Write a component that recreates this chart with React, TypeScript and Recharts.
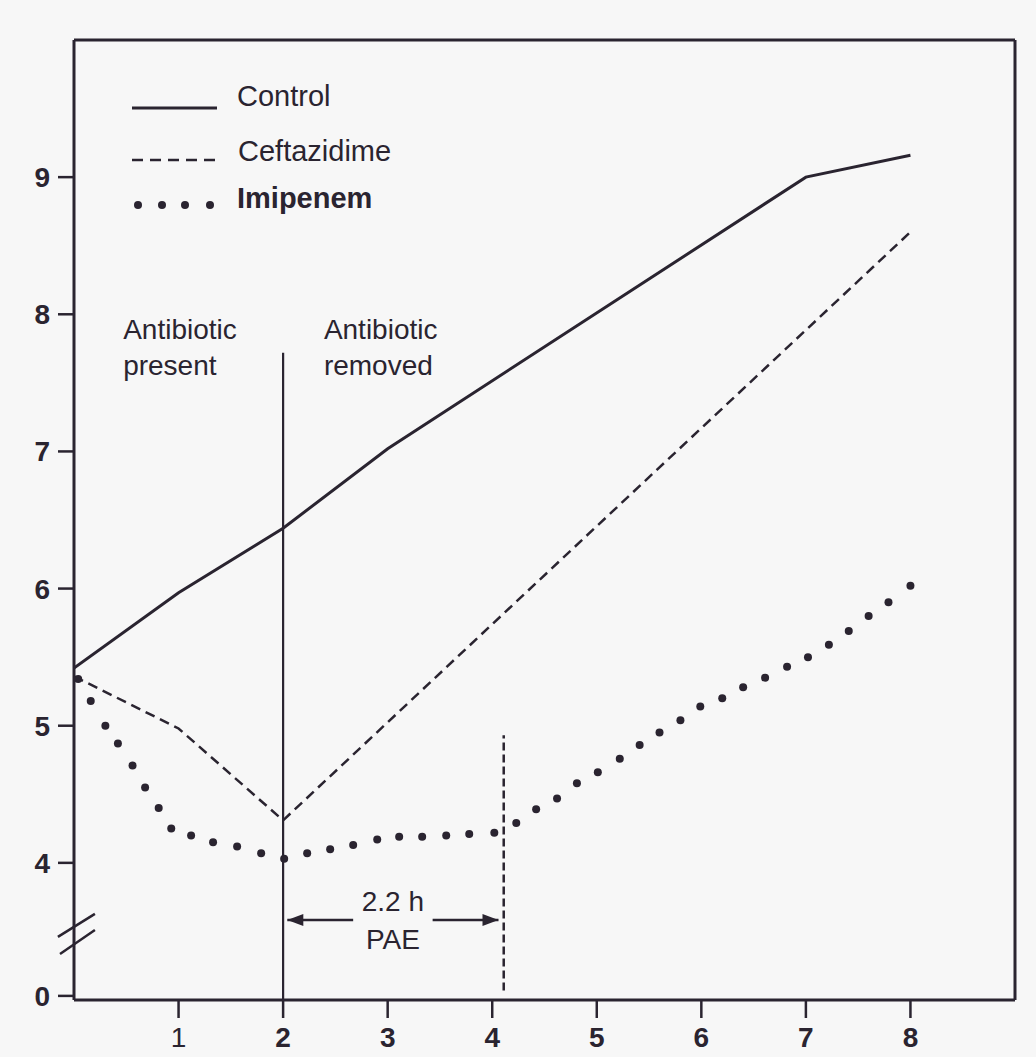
import React from 'react';
import { LineChart, Line, XAxis, YAxis, ReferenceLine, ReferenceDot } from 'recharts';

// ---- data ----
const xTicks = [1, 2, 3, 4, 5, 6, 7, 8];
const xTickLabels = ['1', '2', '3', '4', '5', '6', '7', '8'];
const yTicks = [3.03, 4, 5, 6, 7, 8, 9];
const yTickLabels = ['0', '4', '5', '6', '7', '8', '9'];

const controlX = [0, 1, 2, 3, 7, 8];
const controlY = [5.42, 5.97, 6.44, 7.02, 9.0, 9.16];

const ceftazidimeX = [0, 1, 2, 8];
const ceftazidimeY = [5.36, 4.98, 4.31, 8.6];

// individual dots of the Imipenem curve
const imipenemX = [0.04, 0.16, 0.3, 0.42, 0.56, 0.68, 0.81, 0.93, 1.12, 1.33, 1.56, 1.79, 2.01, 2.23, 2.45, 2.67, 2.9, 3.11, 3.33, 3.56, 3.78, 4.02, 4.23, 4.42, 4.62, 4.81, 5.01, 5.22, 5.41, 5.6, 5.8, 5.99, 6.2, 6.4, 6.61, 6.82, 7.02, 7.22, 7.41, 7.6, 7.79, 8.0];
const imipenemY = [5.34, 5.18, 5.0, 4.87, 4.71, 4.55, 4.4, 4.25, 4.2, 4.15, 4.12, 4.07, 4.03, 4.07, 4.1, 4.13, 4.17, 4.19, 4.19, 4.2, 4.21, 4.22, 4.29, 4.39, 4.47, 4.58, 4.66, 4.76, 4.86, 4.95, 5.04, 5.14, 5.2, 5.28, 5.35, 5.43, 5.5, 5.59, 5.69, 5.8, 5.9, 6.02];

const seriesNames = ['Control', 'Ceftazidime', 'Imipenem'];

const antibioticTime = 2;
const paeEnd = 4.11;
const paeLabel = ['2.2 h', 'PAE'];
const presentLabel = ['Antibiotic', 'present'];
const removedLabel = ['Antibiotic', 'removed'];

const toPoints = (xs: number[], ys: number[]) => xs.map((x, i) => ({ x, y: ys[i] }));
const controlData = toPoints(controlX, controlY);
const ceftazidimeData = toPoints(ceftazidimeX, ceftazidimeY);
const imipenemData = toPoints(imipenemX, imipenemY);

const INK = '#2a2430';
const BG = '#f7f7f7';
const FONT = '"Liberation Sans", Arial, Helvetica, sans-serif';

const YTick = (props: any) => {
  const { x, y, payload } = props;
  const i = yTicks.indexOf(payload.value);
  return (
    <text x={x - 6} y={y} dy={10} textAnchor="end" fontFamily={FONT} fontSize={28} fontWeight="bold" fill={INK}>
      {yTickLabels[i]}
    </text>
  );
};

const XTick = (props: any) => {
  const { x, y, payload } = props;
  const i = xTicks.indexOf(payload.value);
  return (
    <text x={x} y={y} dy={27} textAnchor="middle" fontFamily={FONT} fontSize={28}
      fontWeight={payload.value === 1 ? 'normal' : 'bold'} fill={INK}>
      {xTickLabels[i]}
    </text>
  );
};

const multiLine = (lines: string[], anchor: string, dy0: number, lh: number) => (props: any) => {
  const vb = props.viewBox || {};
  const cx = (vb.x ?? 0) + (vb.width ?? 0) / 2;
  const cy = (vb.y ?? 0) + (vb.height ?? 0) / 2;
  return (
    <g>
      {lines.map((t, k) => (
        <text key={k} x={cx} y={cy + dy0 + k * lh} textAnchor={anchor} fontFamily={FONT} fontSize={28} fill={INK}>
          {t}
        </text>
      ))}
    </g>
  );
};

const arrowShape = (headAtEnd: boolean) => (props: any) => {
  const { x1, y1, x2, y2 } = props;
  const hx = headAtEnd ? x2 : x1;
  const dir = headAtEnd ? -1 : 1;
  return (
    <g>
      <line x1={x1} y1={y1} x2={x2} y2={y2} stroke={INK} strokeWidth={2.5} />
      <polygon points={`${hx},${y1} ${hx + dir * 16},${y1 - 6} ${hx + dir * 16},${y1 + 6}`} fill={INK} />
    </g>
  );
};

const Legend = () => (
  <div style={{ position: 'absolute', left: 130, top: 80, fontFamily: FONT, color: INK }}>
    <div style={{ position: 'absolute', top: 0, left: 0, width: 320, height: 40 }}>
      <svg width={90} height={40} style={{ position: 'absolute', left: 0, top: 0 }}>
        <line x1={2} y1={28} x2={87} y2={28} stroke={INK} strokeWidth={3} />
      </svg>
      <span style={{ position: 'absolute', left: 107, top: 0, fontSize: 29, whiteSpace: 'nowrap' }}>{seriesNames[0]}</span>
    </div>
    <div style={{ position: 'absolute', top: 55, left: 0, width: 320, height: 40 }}>
      <svg width={90} height={40} style={{ position: 'absolute', left: 0, top: 0 }}>
        <line x1={2} y1={25} x2={87} y2={25} stroke={INK} strokeWidth={2.5} strokeDasharray="11 7" />
      </svg>
      <span style={{ position: 'absolute', left: 108, top: 0, fontSize: 29, whiteSpace: 'nowrap' }}>{seriesNames[1]}</span>
    </div>
    <div style={{ position: 'absolute', top: 102, left: 0, width: 320, height: 40 }}>
      <svg width={90} height={40} style={{ position: 'absolute', left: 0, top: 0 }}>
        {[8, 32, 55, 80].map((cx) => (
          <circle key={cx} cx={cx} cy={23} r={4} fill={INK} />
        ))}
      </svg>
      <span style={{ position: 'absolute', left: 107, top: 0, fontSize: 29, fontWeight: 'bold', whiteSpace: 'nowrap' }}>{seriesNames[2]}</span>
    </div>
  </div>
);

const DotShape = (props: any) => {
  const { cx, cy } = props;
  if (cx == null || cy == null) return null;
  return <circle cx={cx} cy={cy} r={4} fill={INK} />;
};

export default function App() {
  return (
    <div style={{ position: 'absolute', left: 0, top: 0, width: 1036, height: 1057, background: BG, overflow: 'hidden' }}>
      <LineChart width={1036} height={1057} margin={{ top: 40, right: 21, bottom: 0, left: 0 }}>
        <XAxis
          type="number"
          dataKey="x"
          domain={[0, 9]}
          ticks={xTicks}
          allowDataOverflow
          height={57}
          tickSize={18}
          axisLine={{ stroke: INK, strokeWidth: 3 }}
          tickLine={{ stroke: INK, strokeWidth: 2.5 }}
          tick={<XTick />}
          interval={0}
        />
        <YAxis
          type="number"
          dataKey="y"
          domain={[3, 10]}
          ticks={yTicks}
          allowDataOverflow
          width={74}
          tickSize={16}
          axisLine={{ stroke: INK, strokeWidth: 3 }}
          tickLine={{ stroke: INK, strokeWidth: 2.5 }}
          tick={<YTick />}
          interval={0}
        />
        <ReferenceLine y={10} stroke={INK} strokeWidth={3} ifOverflow="visible" />
        <ReferenceLine x={9} stroke={INK} strokeWidth={3} ifOverflow="visible" />

        {/* axis break marks */}
        <ReferenceLine segment={[{ x: -0.154, y: 3.46 }, { x: 0.2, y: 3.628 }]} stroke={INK} strokeWidth={2.5} ifOverflow="visible" />
        <ReferenceLine segment={[{ x: -0.134, y: 3.336 }, { x: 0.2, y: 3.51 }]} stroke={INK} strokeWidth={2.5} ifOverflow="visible" />

        {/* antibiotic removed line */}
        <ReferenceLine segment={[{ x: antibioticTime, y: 3 }, { x: antibioticTime, y: 7.72 }]} stroke={INK} strokeWidth={2.2} />
        {/* PAE end */}
        <ReferenceLine segment={[{ x: paeEnd, y: 3.07 }, { x: paeEnd, y: 4.93 }]} stroke={INK} strokeWidth={2.5} strokeDasharray="8 4" />

        {/* PAE arrows */}
        <ReferenceLine segment={[{ x: 2.04, y: 3.584 }, { x: 2.67, y: 3.584 }]} shape={arrowShape(false)} />
        <ReferenceLine segment={[{ x: 3.43, y: 3.584 }, { x: 4.06, y: 3.584 }]} shape={arrowShape(true)} />

        <ReferenceDot x={3.05} y={3.584} r={0} fill="none" stroke="none" label={multiLine(paeLabel, 'middle', -9, 38)} />
        <ReferenceDot x={0.47} y={7.82} r={0} fill="none" stroke="none" label={multiLine(presentLabel, 'start', 0, 36)} />
        <ReferenceDot x={2.39} y={7.82} r={0} fill="none" stroke="none" label={multiLine(removedLabel, 'start', 0, 36)} />

        <Line data={controlData} dataKey="y" type="linear" stroke={INK} strokeWidth={3} dot={false} isAnimationActive={false} />
        <Line data={ceftazidimeData} dataKey="y" type="linear" stroke={INK} strokeWidth={2.5} strokeDasharray="10 6" dot={false} isAnimationActive={false} />
        <Line data={imipenemData} dataKey="y" type="linear" stroke="none" dot={<DotShape />} activeDot={false} isAnimationActive={false} />
      </LineChart>
      <Legend />
    </div>
  );
}
